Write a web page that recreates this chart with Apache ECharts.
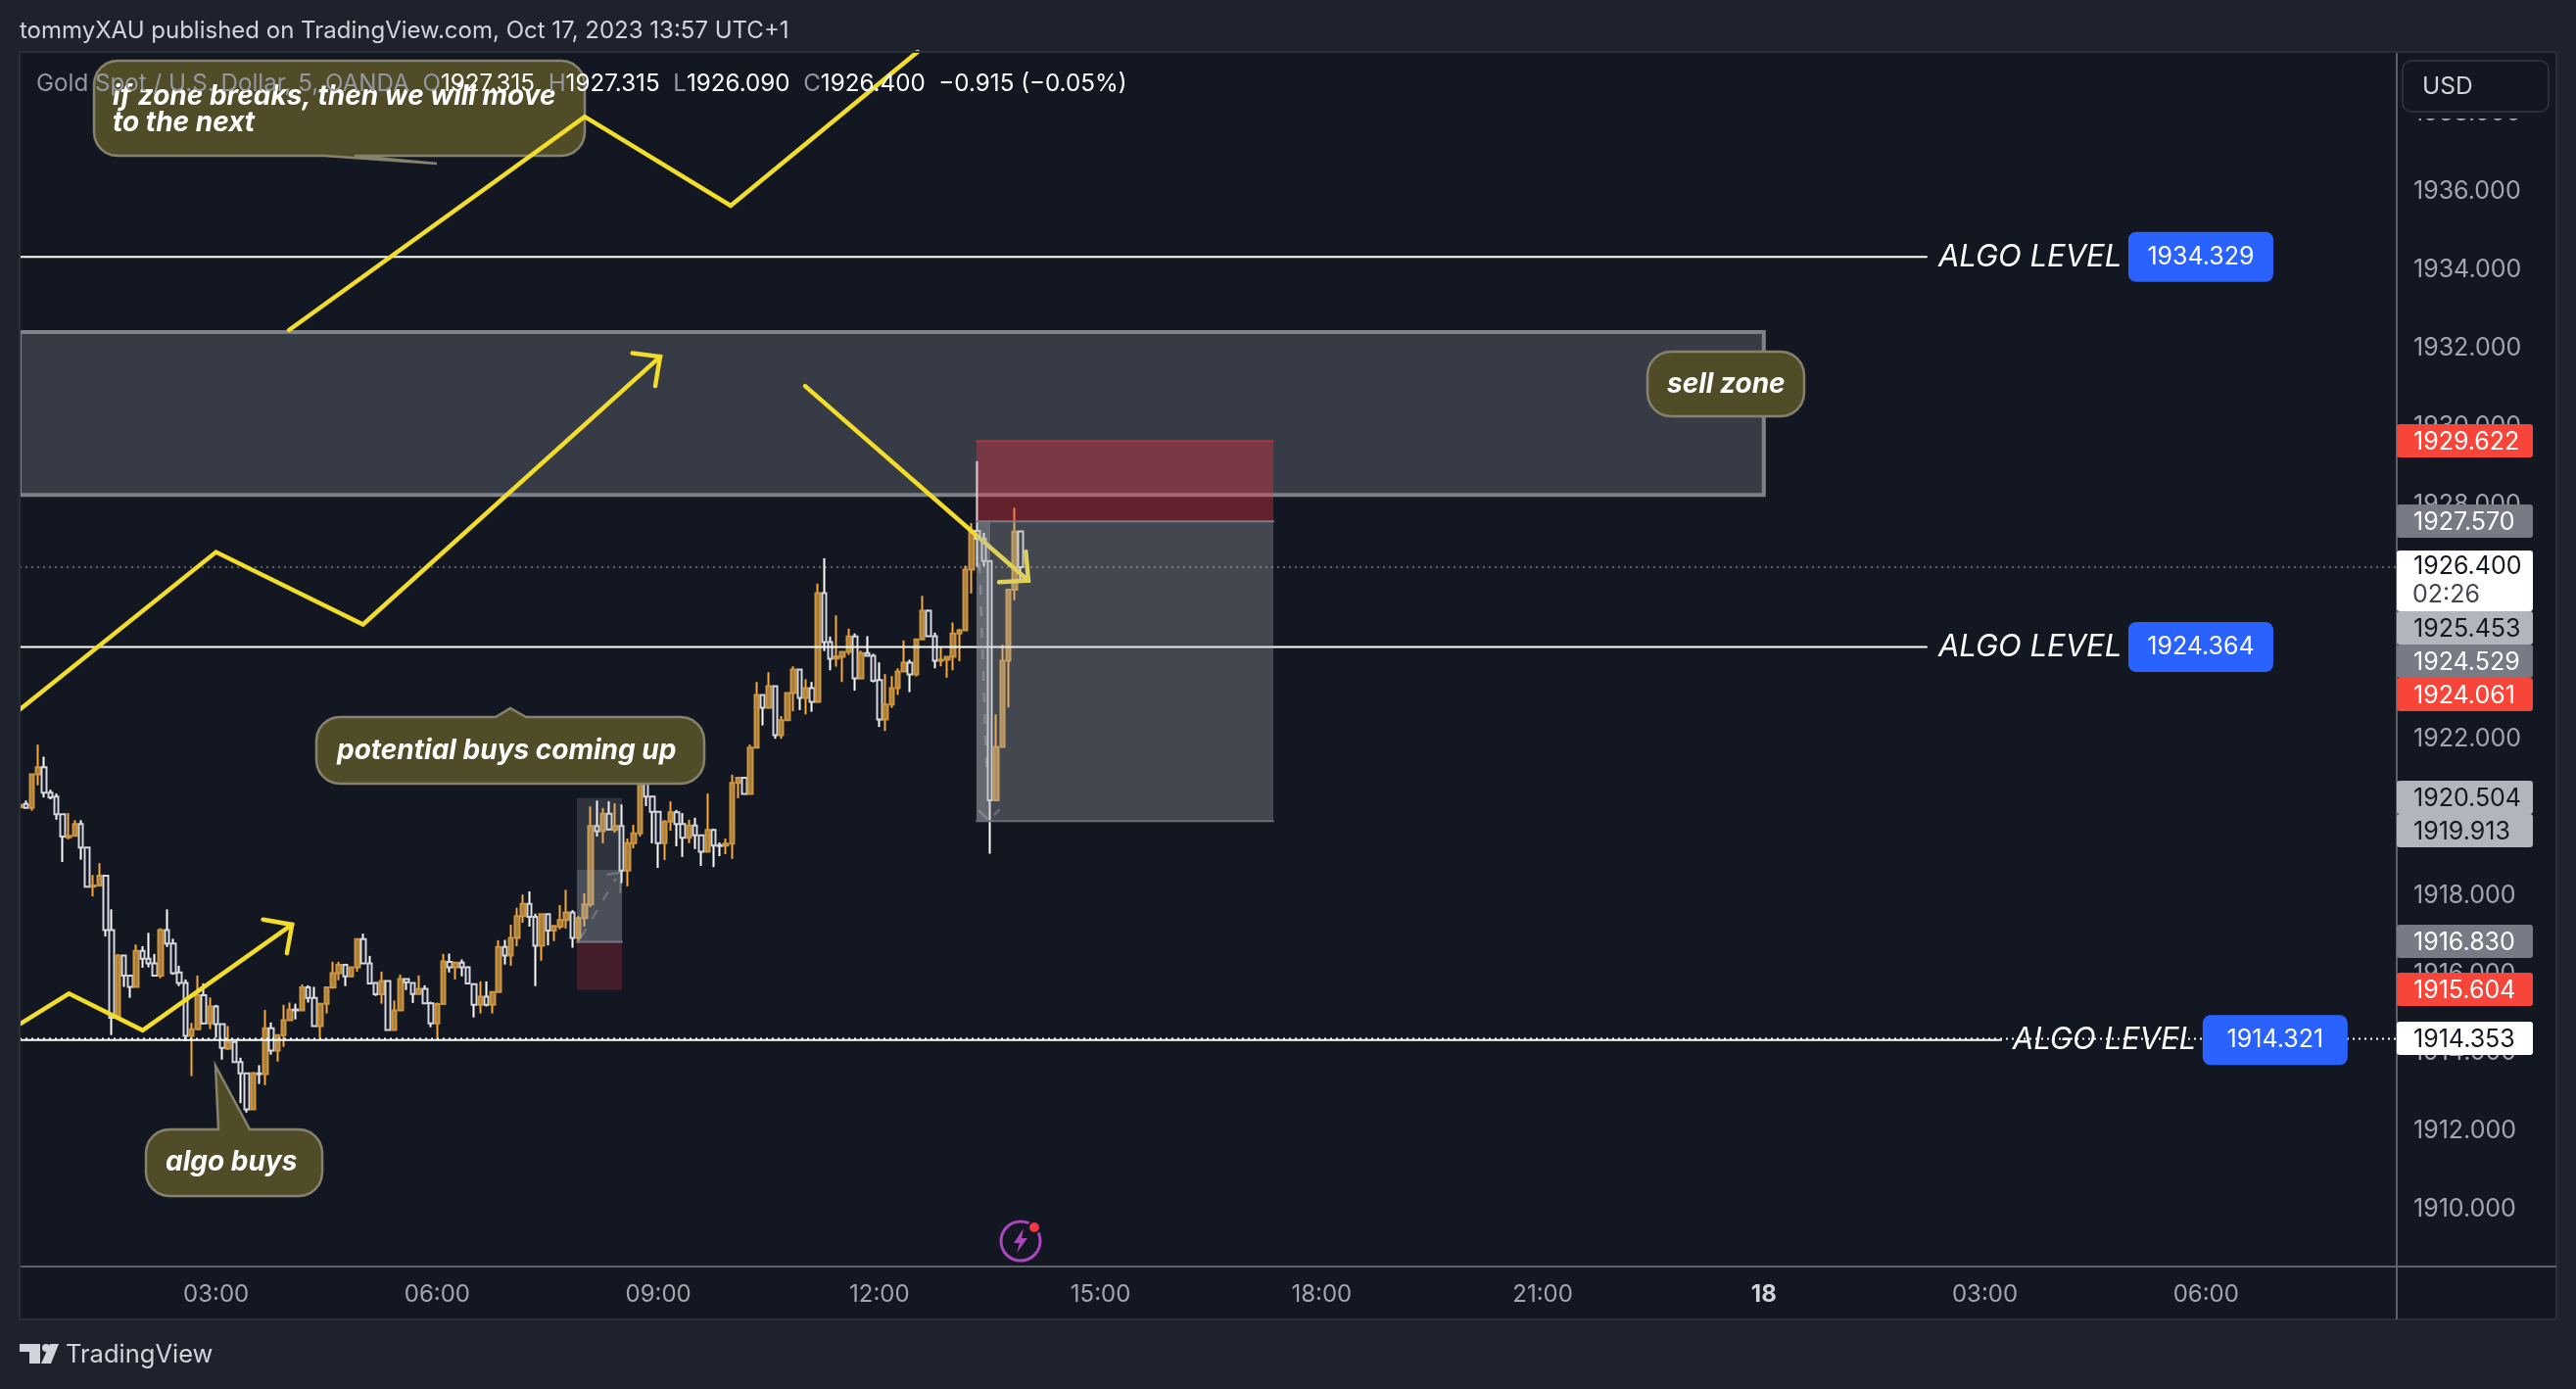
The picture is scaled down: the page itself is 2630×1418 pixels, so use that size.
<!DOCTYPE html>
<html>
<head>
<meta charset="utf-8">
<title>Gold Spot / U.S. Dollar, 5</title>
<style>
  html, body { margin: 0; padding: 0; background: #1e222d; }
  #chartContainer { width: 2630px; height: 1418px; }
</style>
<script src="https://cdn.jsdelivr.net/npm/echarts@6/dist/echarts.min.js"></script>
</head>
<body>
<div id="chartContainer"></div>
<script>
// 5 minute bars, the first one opens at 00:20 on Oct 17
var opens = [
  1920.27, 1920.35, 1920.25, 1921.11, 1921.29, 1920.64, 1920.54, 1920.09, 1919.50, 1919.54,
  1919.84, 1919.24, 1918.24, 1918.27, 1918.52, 1917.13, 1914.91, 1916.48, 1915.97, 1915.68,
  1916.60, 1916.40, 1916.28, 1915.97, 1917.13, 1916.79, 1916.05, 1915.78, 1914.43, 1914.60,
  1915.47, 1914.75, 1915.18, 1914.73, 1914.10, 1914.27, 1913.76, 1913.47, 1912.55, 1913.47,
  1913.45, 1914.62, 1914.05, 1914.45, 1914.83, 1915.10, 1915.08, 1915.67, 1915.40, 1914.68,
  1915.25, 1915.67, 1916.03, 1916.24, 1915.95, 1916.18, 1916.90, 1916.28, 1915.78, 1915.49,
  1915.83, 1914.58, 1915.08, 1915.88, 1915.78, 1915.50, 1915.63, 1915.26, 1914.75, 1915.24,
  1916.32, 1916.18, 1916.30, 1916.18, 1915.75, 1915.22, 1915.43, 1915.22, 1915.55, 1916.70,
  1916.48, 1916.93, 1917.49, 1917.80, 1917.47, 1916.73, 1917.54, 1917.12, 1917.22, 1917.39,
  1917.58, 1916.93, 1917.44, 1917.79, 1919.79, 1919.66, 1920.10, 1919.69, 1919.79, 1918.65,
  1919.35, 1919.60, 1921.31, 1920.54, 1920.15, 1919.35, 1919.90, 1920.14, 1919.84, 1919.49,
  1919.80, 1919.55, 1919.13, 1919.69, 1919.30, 1919.29, 1919.34, 1920.89, 1921.02, 1920.61,
  1921.79, 1923.14, 1922.81, 1923.36, 1922.11, 1922.49, 1923.19, 1923.79, 1923.06, 1923.31,
  1922.96, 1925.74, 1924.49, 1924.07, 1924.11, 1924.24, 1924.63, 1923.56, 1924.21, 1924.14,
  1923.52, 1922.51, 1922.89, 1923.31, 1923.74, 1923.96, 1923.66, 1924.56, 1925.29, 1924.64,
  1924.01, 1924.04, 1924.11, 1924.71, 1924.79, 1926.34, 1927.33, 1927.13, 1926.56, 1920.45,
  1921.81, 1924.01, 1925.83, 1927.315
];
var closes = [
  1920.33, 1920.25, 1921.11, 1921.29, 1920.64, 1920.52, 1920.09, 1919.52, 1919.54, 1919.84,
  1919.24, 1918.24, 1918.27, 1918.52, 1917.13, 1914.89, 1916.48, 1915.97, 1915.68, 1916.60,
  1916.40, 1916.28, 1915.97, 1917.13, 1916.79, 1916.03, 1915.78, 1914.43, 1914.60, 1915.47,
  1914.75, 1915.18, 1914.73, 1914.12, 1914.27, 1913.76, 1913.47, 1912.55, 1913.47, 1913.45,
  1914.62, 1914.05, 1914.45, 1914.83, 1915.10, 1915.08, 1915.67, 1915.40, 1914.68, 1915.25,
  1915.67, 1916.03, 1916.24, 1915.95, 1916.18, 1916.90, 1916.28, 1915.77, 1915.49, 1915.83,
  1914.58, 1915.08, 1915.88, 1915.80, 1915.50, 1915.63, 1915.26, 1914.75, 1915.24, 1916.33,
  1916.18, 1916.30, 1916.18, 1915.77, 1915.22, 1915.43, 1915.22, 1915.55, 1916.70, 1916.48,
  1916.93, 1917.49, 1917.80, 1917.47, 1916.73, 1917.54, 1917.12, 1917.24, 1917.39, 1917.58,
  1916.93, 1917.44, 1917.79, 1919.79, 1919.66, 1920.10, 1919.70, 1919.79, 1918.65, 1919.35,
  1919.60, 1921.31, 1920.54, 1920.15, 1919.35, 1919.90, 1920.14, 1919.84, 1919.49, 1919.80,
  1919.55, 1919.13, 1919.69, 1919.29, 1919.28, 1919.34, 1920.89, 1921.02, 1920.61, 1921.79,
  1923.14, 1922.81, 1923.36, 1922.11, 1922.49, 1923.19, 1923.79, 1923.06, 1923.31, 1922.96,
  1925.74, 1924.49, 1924.06, 1924.12, 1924.24, 1924.63, 1923.56, 1924.21, 1924.14, 1923.50,
  1922.51, 1922.89, 1923.31, 1923.74, 1923.96, 1923.66, 1924.56, 1925.29, 1924.64, 1924.01,
  1924.04, 1924.11, 1924.71, 1924.79, 1926.34, 1927.33, 1927.13, 1926.56, 1920.45, 1921.81,
  1924.01, 1925.83, 1927.31, 1926.40
];
var lows = [
  1920.22, 1920.25, 1920.18, 1920.83, 1920.52, 1920.47, 1919.95, 1918.87, 1919.45, 1919.52,
  1918.93, 1918.24, 1917.99, 1918.27, 1916.97, 1914.45, 1914.91, 1915.68, 1915.40, 1915.68,
  1916.17, 1916.18, 1915.95, 1915.90, 1916.70, 1915.99, 1915.70, 1914.30, 1913.40, 1914.60,
  1914.72, 1914.60, 1914.38, 1913.82, 1914.07, 1913.74, 1912.71, 1912.47, 1912.55, 1913.20,
  1913.17, 1913.95, 1913.77, 1914.15, 1914.83, 1914.85, 1915.08, 1915.28, 1914.68, 1914.37,
  1915.00, 1915.63, 1915.85, 1915.70, 1915.93, 1916.07, 1916.28, 1915.75, 1915.45, 1915.25,
  1914.58, 1914.58, 1915.08, 1915.60, 1915.27, 1915.50, 1915.26, 1914.65, 1914.33, 1915.24,
  1916.05, 1915.87, 1915.95, 1915.77, 1914.90, 1915.00, 1915.18, 1915.00, 1915.55, 1916.25,
  1916.22, 1916.72, 1917.32, 1917.22, 1915.70, 1916.35, 1916.74, 1916.85, 1917.15, 1917.17,
  1916.68, 1916.80, 1917.22, 1917.72, 1919.52, 1919.35, 1919.67, 1919.62, 1918.33, 1918.25,
  1919.22, 1919.52, 1920.30, 1919.35, 1918.72, 1918.92, 1919.67, 1919.27, 1919.00, 1919.35,
  1919.20, 1918.77, 1919.13, 1918.74, 1919.02, 1919.07, 1918.95, 1920.50, 1920.61, 1920.61,
  1921.79, 1922.36, 1922.79, 1922.02, 1922.02, 1922.49, 1922.72, 1922.75, 1922.64, 1922.71,
  1922.94, 1924.26, 1923.77, 1923.86, 1923.47, 1924.16, 1923.25, 1923.54, 1924.14, 1923.46,
  1922.32, 1922.22, 1922.81, 1923.14, 1923.74, 1923.21, 1923.61, 1924.56, 1924.64, 1923.82,
  1923.87, 1923.58, 1923.77, 1924.00, 1924.79, 1925.73, 1926.41, 1926.43, 1919.08, 1920.45,
  1921.81, 1922.82, 1925.56, 1926.09
];
var highs = [
  1920.33, 1920.44, 1921.11, 1921.87, 1921.56, 1920.72, 1920.62, 1920.09, 1920.12, 1919.94,
  1919.94, 1919.24, 1918.54, 1918.84, 1918.52, 1917.66, 1916.52, 1916.48, 1915.99, 1916.76,
  1916.72, 1917.06, 1916.52, 1917.18, 1917.66, 1916.91, 1916.22, 1915.87, 1914.76, 1915.97,
  1915.77, 1915.41, 1915.22, 1914.73, 1914.68, 1914.27, 1913.87, 1913.47, 1913.51, 1913.68,
  1915.09, 1914.77, 1914.45, 1915.22, 1915.28, 1915.25, 1915.74, 1915.72, 1915.68, 1915.27,
  1915.68, 1916.32, 1916.32, 1916.27, 1916.18, 1916.90, 1917.04, 1916.47, 1915.80, 1916.07,
  1915.83, 1915.33, 1915.99, 1915.88, 1915.78, 1915.97, 1915.72, 1915.30, 1915.28, 1916.52,
  1916.53, 1916.32, 1916.38, 1916.20, 1915.77, 1915.82, 1915.82, 1915.55, 1916.87, 1916.88,
  1917.27, 1917.70, 1918.04, 1918.12, 1917.55, 1917.54, 1917.54, 1917.24, 1917.77, 1918.16,
  1917.64, 1917.49, 1918.07, 1920.29, 1920.44, 1920.25, 1920.42, 1920.37, 1920.34, 1919.47,
  1919.82, 1921.39, 1921.41, 1920.56, 1920.16, 1919.94, 1920.42, 1920.20, 1920.12, 1919.95,
  1920.00, 1919.57, 1920.62, 1919.72, 1919.37, 1919.47, 1921.10, 1921.04, 1921.04, 1921.87,
  1923.47, 1923.14, 1923.72, 1923.36, 1922.60, 1923.19, 1923.87, 1923.79, 1923.54, 1923.47,
  1925.98, 1926.63, 1924.63, 1925.17, 1924.24, 1924.83, 1924.71, 1924.27, 1924.64, 1924.19,
  1923.97, 1923.67, 1923.62, 1923.82, 1924.53, 1924.04, 1924.56, 1925.67, 1925.32, 1924.73,
  1924.38, 1924.11, 1924.99, 1924.83, 1926.44, 1927.53, 1929.11, 1927.28, 1926.56, 1922.64,
  1924.42, 1925.84, 1927.92, 1927.315
];

// axis ticks, x in minutes since Oct 17 00:00
var priceTicks = [1910, 1912, 1914, 1916, 1918, 1920, 1922, 1924, 1926, 1928, 1930, 1932, 1934, 1936, 1938];
var timeTicks = [180, 360, 540, 720, 900, 1080, 1260, 1440, 1620, 1800];
var timeLabels = ['03:00', '06:00', '09:00', '12:00', '15:00', '18:00', '21:00', '18', '03:00', '06:00'];

// levels drawn on the chart
var algoLevels = [1934.329, 1924.364, 1914.321];
var lastPrice = 1926.400;
var bidLine = 1914.353;

// hand drawn arrows [minute, price]
var bigZigzag = [[239.3, 1932.46], [480.1, 1937.91], [598.9, 1935.64], [751.2, 1939.57]];
var midZigzag = [[20, 1922.76], [179.9, 1926.79], [299.6, 1924.94], [541.5, 1931.78]];
var midHead = [[518.9, 1931.87], [541.5, 1931.78], [537.5, 1931.03]];
var lowZigzag = [[20.3, 1914.73], [60.2, 1915.51], [120.2, 1914.57], [241.8, 1917.27]];
var lowHead = [[218.2, 1917.40], [241.8, 1917.27], [237.6, 1916.54]];
var downArrow = [[659.5, 1931.03], [841.3, 1926.06]];
var downHead = [[817.4, 1926.02], [841.3, 1926.06], [839.2, 1926.80]];

// dashed paths inside the two position tools
var longPath = [[477.2, 1916.95], [505.6, 1918.45]];
var longPathHead = [[498.8, 1918.55], [510, 1918.6], [509, 1918.1]];
var shortPath = [[801.5, 1926.5], [807.5, 1921.0]];
var shortHeadLeft = [[801.4, 1920.17], [807.5, 1919.98]];
var shortHeadRight = [[817.4, 1920.2], [813.7, 1920.08]];

// right axis tags, top to bottom
var tagTexts = ['1929.622', '1927.570', '1925.453', '1924.529', '1924.061', '1920.504', '1919.913', '1916.830', '1915.604', '1914.353'];
var tagFills = ['#f7453a', '#787b86', '#b2b5be', '#787b86', '#f7453a', '#b2b5be', '#b2b5be', '#787b86', '#f7453a', '#ffffff'];
var tagInks = ['#fff', '#fff', '#131722', '#fff', '#fff', '#131722', '#131722', '#fff', '#fff', '#131722'];
var tagCenters = [450, 532, 641, 675, 709, 814, 848, 961, 1010, 1060];

var MINUTES_PER_PX = 0.7974;
var GRID_LEFT = 20, GRID_TOP = 53, GRID_WIDTH = 2427, GRID_HEIGHT = 1240;
var FONT = 'Inter, "Noto Sans", sans-serif';
var ORANGE = '#cb963f', ORANGE_FILL = '#a87c3a', ORANGE_WICK = '#fba83c';
var WHITE = '#d6d8df', WHITE_WICK = '#ffffff', BG = '#131722', OUTER = '#1e222d';
var YELLOW = '#f3dd2b';

var wickData = opens.map(function (o, i) {
  return [20 + i * 5, o, closes[i], lows[i], highs[i]];
});
// same bars without the shadows, the wicks are a brighter colour underneath
var bodyData = opens.map(function (o, i) {
  return [20 + i * 5, o, closes[i], Math.min(o, closes[i]), Math.max(o, closes[i])];
});

function drawLine(points, color, width, z, extra) {
  var s = {
    type: 'line',
    data: points,
    symbol: 'none',
    silent: true,
    z: z,
    lineStyle: { color: color, width: width, cap: 'round', join: 'miter' }
  };
  for (var k in (extra || {})) {
    if (k === 'dash') {
      s.lineStyle.type = extra.dash;
      s.lineStyle.cap = 'butt';
    } else {
      s[k] = extra[k];
    }
  }
  return s;
}

function zone(x1, y1, x2, y2, fill, z, border, borderWidth) {
  return {
    type: 'line',
    data: [],
    silent: true,
    markArea: {
      silent: true,
      z: z,
      itemStyle: { color: fill, borderColor: border || 'transparent', borderWidth: borderWidth || 0 },
      data: [[{ coord: [x1, y1] }, { coord: [x2, y2] }]]
    }
  };
}

function algoLine(price, endMinute) {
  return drawLine([[20, price], [endMinute, price]], '#ffffff', 2, 4, {
    endLabel: {
      show: true,
      distance: 12,
      formatter: '{a|ALGO LEVEL}{b|' + price.toFixed(3) + '}',
      rich: {
        a: { color: '#fff', fontFamily: FONT, fontStyle: 'italic', fontSize: 31, width: 194, height: 51 },
        b: {
          color: '#fff', backgroundColor: '#2962ff', fontFamily: FONT, fontSize: 25,
          width: 148, height: 51, lineHeight: 51, align: 'center', borderRadius: 8
        }
      }
    }
  });
}

// quarter circle points for a rounded corner
function corner(cx, cy, r, startDeg) {
  var pts = [];
  for (var i = 0; i <= 6; i++) {
    var a = (startDeg + i * 15) * Math.PI / 180;
    pts.push([cx + r * Math.cos(a), cy + r * Math.sin(a)]);
  }
  return pts;
}

// rounded box with one pointed tail
function bubble(x0, y0, x1, y1, tail) {
  var r = 24;
  var pts = corner(x0 + r, y0 + r, r, 180);
  if (tail.side === 'top') pts.push([tail.a, y0], [tail.px, tail.py], [tail.b, y0]);
  pts = pts.concat(corner(x1 - r, y0 + r, r, 270), corner(x1 - r, y1 - r, r, 0));
  if (tail.side === 'bottom') pts.push([tail.b, y1], [tail.px, tail.py], [tail.a, y1]);
  pts = pts.concat(corner(x0 + r, y1 - r, r, 90));
  return {
    type: 'polygon',
    z: 20,
    shape: { points: pts },
    style: { fill: '#504c28', stroke: '#86836c', lineWidth: 2.5 }
  };
}

function bubbleText(x, y, text) {
  return {
    type: 'text',
    z: 21,
    x: x,
    y: y,
    style: {
      text: text,
      fill: '#fff',
      font: 'italic bold 28px ' + FONT,
      verticalAlign: 'middle'
    }
  };
}

function plainRect(x, y, w, h, fill, z, r) {
  return { type: 'rect', z: z, shape: { x: x, y: y, width: w, height: h, r: r || 0 }, style: { fill: fill } };
}

function frameLine(x1, y1, x2, y2, color, width) {
  return { type: 'line', z: 30, shape: { x1: x1, y1: y1, x2: x2, y2: y2 }, style: { stroke: color, lineWidth: width } };
}

function label(x, y, text, font, fill, z) {
  return { type: 'text', z: z || 40, x: x, y: y, style: { text: text, font: font, fill: fill, verticalAlign: 'middle' } };
}

var graphics = [
  plainRect(20, 53, 2590, 1294, BG, -1),
  // sell zone runs past the left edge, hide what sticks out
  plainRect(0, 53, 20, 1294, OUTER, 10),

  // frame around the chart
  frameLine(20, 53, 2610, 53, '#2a2e39', 2),
  frameLine(20, 53, 20, 1347, '#2a2e39', 2),
  frameLine(2610, 53, 2610, 1347, '#2a2e39', 2),
  frameLine(20, 1347, 2610, 1347, '#2a2e39', 2),
  frameLine(2447, 1293, 2610, 1293, '#5d606b', 2),
  frameLine(2447, 1293, 2447, 1347, '#5d606b', 2),

  // header and footer
  label(20, 32, 'tommyXAU published on TradingView.com, Oct 17, 2023 13:57 UTC+1', '24px ' + FONT, '#d1d4dc'),
  label(67, 1383, 'TradingView', '25.5px ' + FONT, '#d1d4dc'),
  { type: 'polygon', z: 40, shape: { points: [[20, 1372], [41, 1372], [41, 1392], [30, 1392], [30, 1380], [20, 1380]] }, style: { fill: '#d1d4dc' } },
  { type: 'circle', z: 40, shape: { cx: 47, cy: 1376, r: 4 }, style: { fill: '#d1d4dc' } },
  { type: 'polygon', z: 40, shape: { points: [[51, 1372], [60, 1372], [52, 1392], [42, 1392]] }, style: { fill: '#d1d4dc' } },

  // callouts
  bubble(96, 62, 597, 159, { side: 'bottom', a: 331, b: 362, px: 446, py: 167 }),
  bubbleText(115, 99, 'if zone breaks, then we will move'),
  bubbleText(115, 126, 'to the next'),
  bubble(323, 732, 719, 800, { side: 'top', a: 506, b: 537, px: 521, py: 723 }),
  bubbleText(344, 767, 'potential buys coming up'),
  bubble(149, 1153, 329, 1221, { side: 'top', a: 223, b: 255, px: 220, py: 1088 }),
  bubbleText(169, 1187, 'algo buys'),
  bubble(1682, 359, 1842, 425, { side: 'none' }),
  bubbleText(1702, 393, 'sell zone'),

  // symbol legend on top of the callout
  {
    type: 'text', z: 41, x: 37, y: 86,
    style: {
      text: '{g|Gold Spot / U.S. Dollar, 5, OANDA  O}{w|1927.315}{g|  H}{w|1927.315}{g|  L}{w|1926.090}{g|  C}{w|1926.400}{w|  \u22120.915 (\u22120.05%)}',
      verticalAlign: 'middle',
      rich: {
        g: { fill: '#9598a1', font: '24.2px ' + FONT },
        w: { fill: '#ffffff', font: '24.2px ' + FONT }
      }
    }
  },

  // flash icon
  { type: 'circle', z: 40, shape: { cx: 1042, cy: 1267, r: 20 }, style: { fill: 'transparent', stroke: '#ab47bc', lineWidth: 3 } },
  { type: 'polygon', z: 40, shape: { points: [[1045, 1254], [1035, 1269], [1041, 1269], [1038, 1279], [1049, 1264], [1043, 1264]] }, style: { fill: '#ab47bc' } },
  { type: 'circle', z: 41, shape: { cx: 1056, cy: 1253, r: 6 }, style: { fill: '#f23645', stroke: BG, lineWidth: 2 } },

  // currency button hides the top tick
  plainRect(2449, 55, 160, 66, BG, 30),
  { type: 'rect', z: 31, shape: { x: 2453, y: 62, width: 149, height: 52, r: 9 }, style: { fill: BG, stroke: '#2a2e39', lineWidth: 2 } },
  label(2473, 89, 'USD', '24.5px ' + FONT, '#d1d4dc', 32),

  // last price tag with countdown
  plainRect(2447, 562, 139, 62, '#ffffff', 33, 3),
  label(2464, 578, '1926.400', '25px ' + FONT, '#131722', 34),
  label(2463, 607, '02:26', '25px ' + FONT, '#434651', 34)
];

tagTexts.forEach(function (t, i) {
  graphics.push(plainRect(2447, tagCenters[i] - 17, 139, 34, tagFills[i], 33, 3));
  graphics.push(label(2464, tagCenters[i] + 1, t, '25px ' + FONT, tagInks[i], 34));
});

var chart = echarts.init(document.getElementById('chartContainer'), null, { renderer: 'canvas' });

chart.setOption({
  animation: false,
  backgroundColor: OUTER,
  grid: { left: GRID_LEFT, top: GRID_TOP, width: GRID_WIDTH, height: GRID_HEIGHT, containLabel: false },
  xAxis: {
    type: 'value',
    min: 20,
    max: 20 + GRID_WIDTH * MINUTES_PER_PX,
    splitLine: { show: false },
    axisTick: { show: false },
    axisLine: { show: true, onZero: false, lineStyle: { color: '#5d606b', width: 2 } },
    axisLabel: {
      customValues: timeTicks,
      margin: 17,
      fontFamily: FONT,
      fontSize: 24,
      color: '#a3a6af',
      formatter: function (v) {
        var t = timeLabels[timeTicks.indexOf(v)];
        return t === '18' ? '{day|18}' : t;
      },
      rich: { day: { fontFamily: FONT, fontSize: 24, fontWeight: 'bold', color: '#d1d4dc' } }
    }
  },
  yAxis: {
    type: 'value',
    position: 'right',
    min: 1908.535,
    max: 1939.566,
    splitLine: { show: false },
    axisTick: { show: false },
    axisLine: { show: true, onZero: false, lineStyle: { color: '#5d606b', width: 2 } },
    axisLabel: {
      customValues: priceTicks,
      margin: 17,
      fontFamily: FONT,
      fontSize: 25,
      padding: [3, 0, 0, 0],
      color: '#a3a6af',
      formatter: function (v) { return v.toFixed(3); }
    }
  },
  series: [
    // sell zone sits behind the bars, its left edge runs off the chart
    zone(14, 1932.41, 1440, 1928.25, 'rgba(178,181,190,0.23)', 1, '#7f8288', 4),

    drawLine([[20, lastPrice], [20 + GRID_WIDTH * MINUTES_PER_PX, lastPrice]], '#5d606b', 2, 1, { dash: [2, 4] }),
    {
      type: 'candlestick',
      data: wickData,
      encode: { x: 0, y: [1, 2, 3, 4] },
      barWidth: 1,
      silent: true,
      z: 2,
      itemStyle: { color: ORANGE_WICK, color0: WHITE_WICK, borderColor: ORANGE_WICK, borderColor0: WHITE_WICK, borderWidth: 2 }
    },
    {
      type: 'candlestick',
      data: bodyData,
      encode: { x: 0, y: [1, 2, 3, 4] },
      barWidth: 5,
      silent: true,
      z: 3,
      itemStyle: { color: ORANGE_FILL, color0: BG, borderColor: ORANGE, borderColor0: WHITE, borderWidth: 2 }
    },

    algoLine(algoLevels[0], 1572.5),
    algoLine(algoLevels[1], 1572.5),
    algoLine(algoLevels[2], 1633),
    drawLine([[20, bidLine], [20 + GRID_WIDTH * MINUTES_PER_PX, bidLine]], '#ffffff', 2, 4, { dash: [2, 4] }),

    // this one runs over the callout box
    drawLine(bigZigzag, YELLOW, 4.5, 25),
    drawLine(midZigzag, YELLOW, 4.5, 4),
    drawLine(midHead, YELLOW, 4.5, 4),
    drawLine(lowZigzag, YELLOW, 4.5, 4),
    drawLine(lowHead, YELLOW, 4.5, 4),
    drawLine(downArrow, YELLOW, 4.5, 4),
    drawLine(downHead, YELLOW, 4.5, 4),

    // short position tool
    zone(799, 1929.622, 1040.7, 1927.57, 'rgba(242,54,69,0.36)', 5),
    zone(799, 1927.57, 1040.7, 1919.913, 'rgba(178,181,190,0.3)', 5),
    zone(799, 1927.57, 810.2, 1919.913, 'rgba(178,181,190,0.3)', 5),
    drawLine([[799, 1929.622], [1040.7, 1929.622]], 'rgba(242,54,69,0.5)', 2, 6),
    drawLine([[799, 1927.57], [1040.7, 1927.57]], '#787b86', 2, 6),
    drawLine([[799, 1919.913], [1040.7, 1919.913]], '#6a6d78', 2, 6),
    drawLine(shortPath, 'rgba(255,255,255,0.2)', 2.5, 6, { dash: [10, 12] }),
    drawLine(shortHeadLeft, 'rgba(255,255,255,0.2)', 2.5, 6),
    drawLine(shortHeadRight, 'rgba(255,255,255,0.2)', 2.5, 6),

    // long position tool
    zone(473.7, 1920.504, 510.4, 1916.83, 'rgba(178,181,190,0.18)', 5),
    zone(473.7, 1918.67, 510.4, 1916.83, 'rgba(178,181,190,0.22)', 5),
    zone(473.7, 1916.83, 510.4, 1915.604, 'rgba(242,54,69,0.22)', 5),
    drawLine([[473.7, 1916.83], [510.4, 1916.83]], '#787b86', 2, 6),
    drawLine(longPath, 'rgba(255,255,255,0.2)', 2.5, 6, { dash: [10, 12] }),
    drawLine(longPathHead, 'rgba(255,255,255,0.2)', 2.5, 6)
  ],
  graphic: { elements: graphics }
});

window.addEventListener('resize', function () {
  chart.resize();
});
</script>
</body>
</html>
